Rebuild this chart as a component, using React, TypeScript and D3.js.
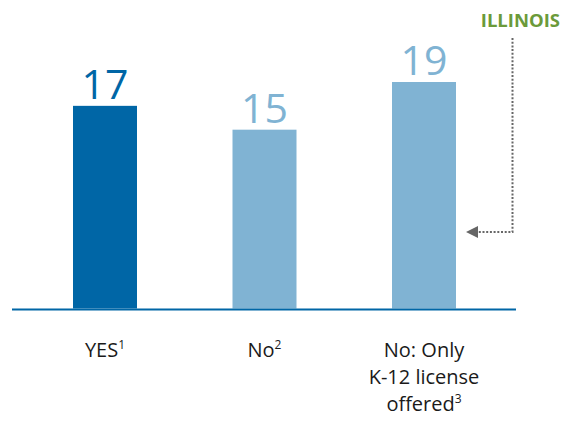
import React from "react";
import * as d3 from "d3";

const categories = ["YES", "No", "No: Only K-12 license offered"];
const labelLines = [["YES"], ["No"], ["No: Only", "K-12 license", "offered"]];
const footnotes = ["1", "2", "3"];
const values = [17, 15, 19];
const highlighted = [true, false, false];
const calloutLabel = "ILLINOIS";

const W = 575;
const H = 444;
const DARK = "#0066a6";
const LIGHT = "#80b3d3";
const GREEN = "#6b9a3a";
const FONT = "'Open Sans', 'Noto Sans', sans-serif";

export default function App() {
  const baseline = 308.5;
  const x = d3.scalePoint<string>().domain(categories).range([105, 424]);
  const y = d3.scaleLinear().domain([0, 19]).range([baseline, baseline - 226.5]);
  const bw = 64;
  const centers = categories.map((c) => x(c) as number);
  const arrowY = 232;
  const vx = 512.5;
  return (
    <div style={{ position: "absolute", left: 0, top: 0 }}>
      <svg width={W} height={H} style={{ display: "block" }}>
        <rect width={W} height={H} fill="#fff" />
        {values.map((v, i) => (
          <g key={i}>
            <rect
              x={centers[i] - bw / 2}
              y={y(v)}
              width={bw}
              height={baseline - y(v)}
              fill={highlighted[i] ? DARK : LIGHT}
            />
            <text
              x={centers[i]}
              y={y(v) - 7}
              textAnchor="middle"
              fontFamily={FONT}
              fontSize={41}
              fill={highlighted[i] ? DARK : LIGHT}
            >
              {v}
            </text>
          </g>
        ))}
        <line x1={12} x2={516} y1={309.5} y2={309.5} stroke={DARK} strokeWidth={2} />
        {labelLines.map((lines, i) => (
          <text key={i} textAnchor="middle" fontFamily={FONT} fontSize={20} fill="#1a1a1a">
            {lines.map((l, j) => (
              <tspan key={j} x={centers[i]} y={357 + j * 27}>
                {l}
                {j === lines.length - 1 ? (
                  <tspan fontSize={12} dy={-8}>
                    {footnotes[i]}
                  </tspan>
                ) : null}
              </tspan>
            ))}
          </text>
        ))}
        <text x={560} y={27} textAnchor="end" fontFamily={FONT} fontWeight={700} fontSize={18.5} fill={GREEN}>
          {calloutLabel}
        </text>
        <path
          d={`M${vx},38 V${arrowY} H478`}
          fill="none"
          stroke="#666"
          strokeWidth={2}
          strokeDasharray="2 1.7"
        />
        <path d={`M466,${arrowY} L478,${arrowY - 6} L478,${arrowY + 6} Z`} fill="#666" />
      </svg>
    </div>
  );
}
